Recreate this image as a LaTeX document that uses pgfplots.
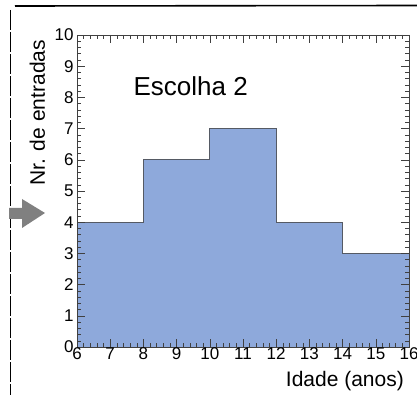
\documentclass[border=0pt]{standalone}
\usepackage{fontspec}
\setmainfont{Liberation Sans}
\usepackage{pgfplots}
\pgfplotsset{compat=1.18}
\definecolor{histfill}{RGB}{142,169,219}
\definecolor{histedge}{RGB}{85,90,100}
\definecolor{arrowgray}{RGB}{128,128,128}
\begin{document}
\begin{tikzpicture}[x=1bp,y=1bp]
\path[use as bounding box] (0,0) rectangle (417,395);
% slide decorations
\draw[line width=1.6bp, black] (15,389) -- (417,389.5);
\draw[line width=0.8bp, black, dash pattern=on 20bp off 2bp] (10,385) -- (10,0);
\fill[arrowgray] (9,187) -- (22,187) -- (22,196) -- (45,182) -- (22,167) -- (22,176) -- (9,176) -- cycle;
\begin{axis}[
  at={(77bp,48bp)}, anchor=south west,
  scale only axis, width=332bp, height=312bp,
  xmin=6, xmax=16, ymin=0, ymax=10,
  xtick={6,7,...,16}, ytick={0,1,...,10},
  minor x tick num=4, minor y tick num=4,
  tick align=inside,
  major tick length=8bp, minor tick length=4bp,
  axis line style={draw=black!75, line width=0.6bp},
  every tick/.style={draw=black!75, line width=0.5bp},
  tick label style={font=\fontsize{17bp}{19bp}\selectfont},
  /pgf/number format/assume math mode=true,
  xticklabel style={yshift=3bp},
  xlabel={Idade (anos)},
  xlabel style={at={(axis description cs:0.995,-0.1250)}, anchor=base east, font=\fontsize{21bp}{24bp}\selectfont},
  ylabel={Nr. de entradas},
  ylabel style={at={(axis description cs:-0.0964,0.995)}, anchor=base east, font=\fontsize{21bp}{24bp}\selectfont},
  axis on top,
]
\addplot[const plot, fill=histfill, draw=histedge, line width=0.8bp]
  coordinates {(6,4) (8,6) (10,7) (12,4) (14,3) (16,3)} \closedcycle;
\node[anchor=base west, font=\fontsize{26bp}{29bp}\selectfont] at (axis cs:7.6,8.05) {Escolha 2};
\end{axis}
\end{tikzpicture}
\end{document}
